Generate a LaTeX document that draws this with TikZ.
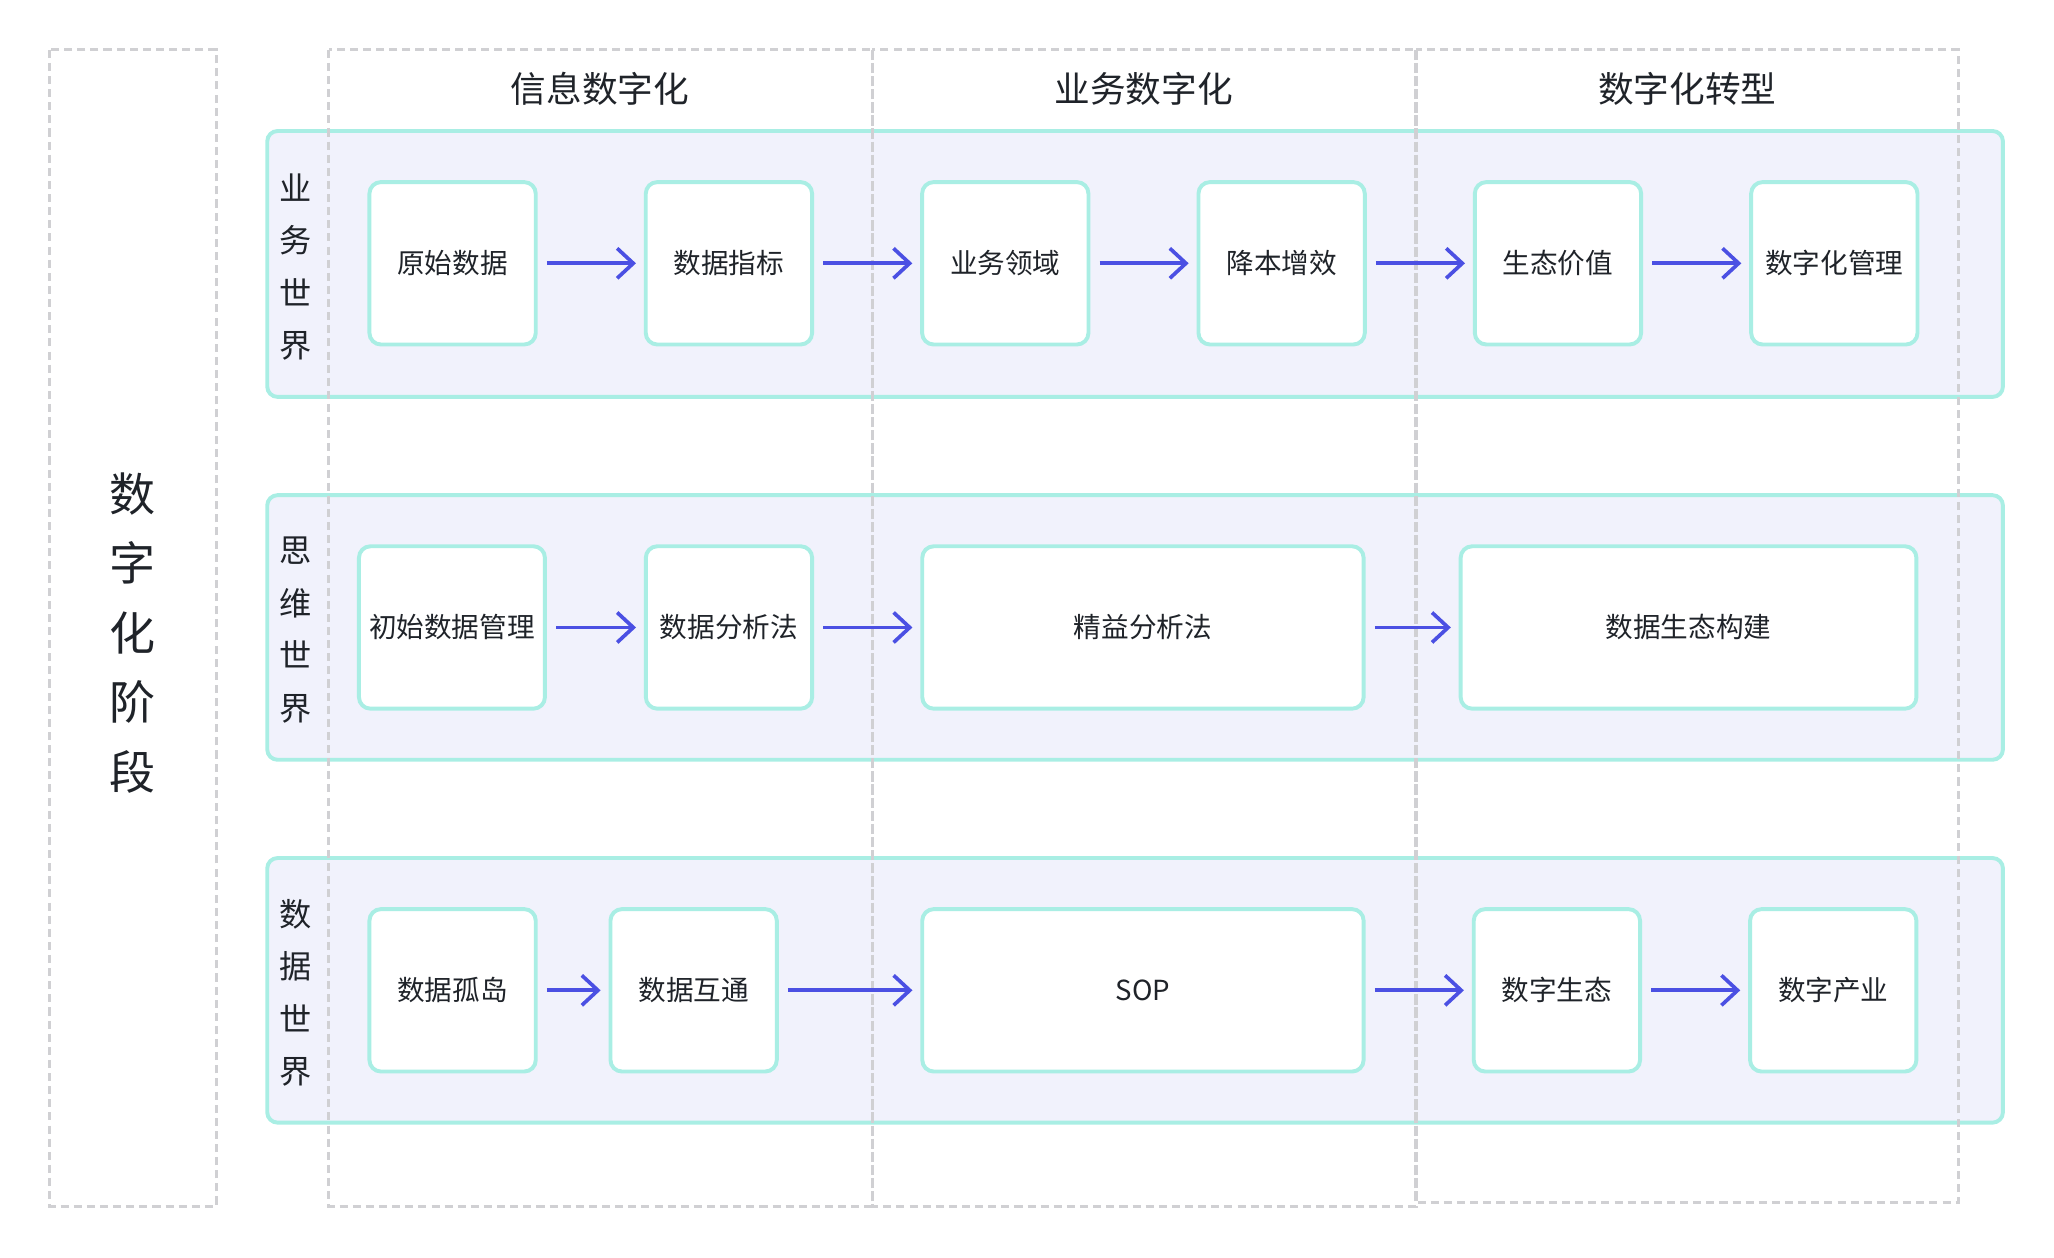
\documentclass[tikz,border=0pt]{standalone}
\usepackage{fontspec}
\setmainfont{Noto Sans CJK SC}
\usetikzlibrary{arrows.meta, positioning}
\definecolor{tealline}{HTML}{A9EEE4}
\definecolor{bandfill}{HTML}{F1F2FC}
\definecolor{flowblue}{HTML}{4B50E3}
\definecolor{dashgray}{HTML}{D0D0D3}
\definecolor{inkdark}{HTML}{1F2329}
\tikzstyle{stage} = [draw=dashgray, line width=1.4pt, dash pattern=on 3.5pt off 2.2pt]
\tikzstyle{band} = [draw=tealline, fill=bandfill, line width=1.7pt, rounded corners=4.5pt]
\tikzstyle{item} = [rectangle, rounded corners=5pt, minimum width=2.54cm, minimum height=2.48cm, text centered, draw=tealline, line width=1.7pt, fill=white, text=inkdark, font=\fontsize{12}{14}\selectfont]
\tikzstyle{wideitem} = [item, minimum width=6.74cm]
\tikzstyle{arrow} = [line width=1.6pt, draw=flowblue, -{Straight Barb[length=7pt,width=13pt]}, shorten <=0.14cm, shorten >=0.12cm]
\tikzstyle{title} = [text=inkdark, font=\fontsize{15.5}{18}\selectfont]
\tikzstyle{rowlabel} = [align=center, text=inkdark, font=\fontsize{14}{22.8}\selectfont]

\begin{document}
\begin{tikzpicture}[x=0.02cm, y=-0.02cm, node distance=4.22cm]
				\useasboundingbox (0,0) rectangle (1568,960);
				%----------------------------------------------------%
				\draw[band] (204,100) rectangle (1529,303);
				\draw[band] (204,378) rectangle (1529,580);
				\draw[band] (204,655) rectangle (1529,857);
				
				\draw[stage] (38,38) rectangle (165,921);
				\draw[stage] (251,38) rectangle (666,921);
				\draw[stage] (666,38) rectangle (1081,921);
				\draw[stage] (1081,38) rectangle (1495,918);
				
				\node(phase) [rowlabel, font=\fontsize{20}{30.2}\selectfont] at (101,483) {数\\字\\化\\阶\\段};
				\node(title1) [title] at (458,68) {信息数字化};
				\node(title2) [title] at (873,68) {业务数字化};
				\node(title3) [title] at (1288,68) {数字化转型};
				
				%----------------------------------------------------%
				\node(bizlabel) [rowlabel] at (226,204) {业\\务\\世\\界};
				\node(biz1) [item] at (345.5,201) {原始数据};
				\node(biz2) [item, right of=biz1] {数据指标};
				\node(biz3) [item, right of=biz2] {业务领域};
				\node(biz4) [item, right of=biz3] {降本增效};
				\node(biz5) [item, right of=biz4] {生态价值};
				\node(biz6) [item, right of=biz5] {数字化管理};
				
				\draw[arrow] (biz1) -- (biz2);
				\draw[arrow] (biz2) -- (biz3);
				\draw[arrow] (biz3) -- (biz4);
				\draw[arrow] (biz4) -- (biz5);
				\draw[arrow] (biz5) -- (biz6);
				
				%----------------------------------------------------%
				\node(thinklabel) [rowlabel] at (226,481) {思\\维\\世\\界};
				\node(think1) [item, minimum width=2.84cm] at (345,479) {初始数据管理};
				\node(think2) [item] at (556.5,479) {数据分析法};
				\node(think3) [wideitem] at (872.5,479) {精益分析法};
				\node(think4) [wideitem, minimum width=6.96cm] at (1289,479) {数据生态构建};
				
				\draw[arrow] (think1) -- (think2);
				\draw[arrow] (think2) -- (think3);
				\draw[arrow] (think3) -- (think4);
				
				%----------------------------------------------------%
				\node(datalabel) [rowlabel] at (226,758) {数\\据\\世\\界};
				\node(data1) [item] at (345.5,756) {数据孤岛};
				\node(data2) [item] at (529.5,756) {数据互通};
				\node(data3) [wideitem] at (872.5,756) {SOP};
				\node(data4) [item] at (1188.5,756) {数字生态};
				\node(data5) [item, right of=data4] {数字产业};
				
				\draw[arrow] (data1) -- (data2);
				\draw[arrow] (data2) -- (data3);
				\draw[arrow] (data3) -- (data4);
				\draw[arrow] (data4) -- (data5);
			\end{tikzpicture}
\end{document}
